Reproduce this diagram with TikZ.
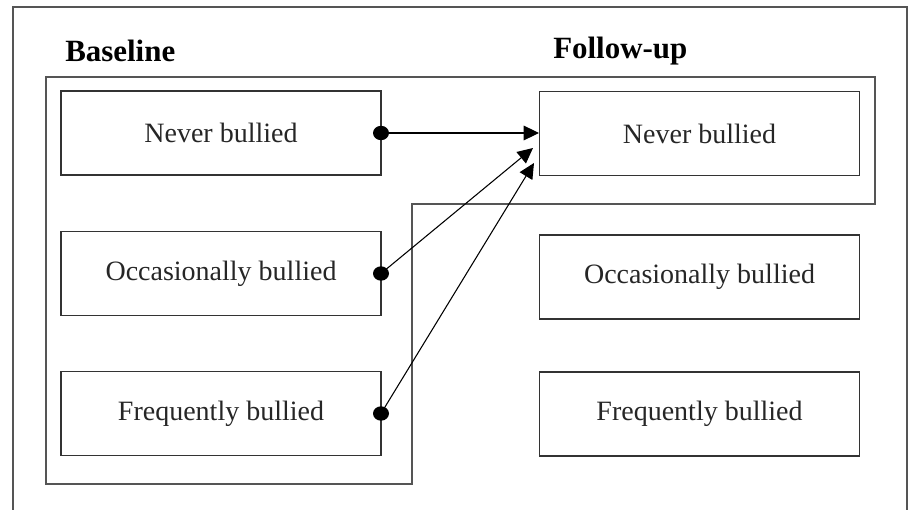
\documentclass[tikz,border=0pt]{standalone}
\usepackage{fontspec}
\setmainfont{Liberation Serif}
\usetikzlibrary{arrows.meta}
\definecolor{frame}{HTML}{555555}
\begin{document}
\begin{tikzpicture}[x=0.75pt,y=-0.75pt,
  framel/.style={draw=frame,line width=0.8pt},
  boxnode/.style={draw=black!80,line width=0.8pt,minimum width=240pt,minimum height=63pt,inner sep=0pt,outer sep=0pt,font=\fontsize{21}{25}\selectfont,text=black!85},
  headlabel/.style={inner sep=0pt,anchor=base west,font=\fontsize{23.2}{27}\selectfont\bfseries},
  conn/.style={draw=black,line width=0.8pt,-{Triangle[length=11.5pt,width=11pt]}},
  dotmark/.style={fill=black}]
\useasboundingbox (0,0) rectangle (911,510);
\draw[framel] (13,510) -- (13,7) -- (907,7) -- (907,510);
\draw[framel] (46,77) -- (875,77) -- (875,204) -- (412,204) -- (412,484) -- (46,484) -- cycle;
\node[headlabel] (hb) at (65,62) {Baseline};
\node[headlabel] (hf) at (553,59) {Follow-up};
\node[boxnode] (l1) at (221,133) {Never bullied};
\node[boxnode] (l2) at (221,273.5) {Occasionally bullied};
\node[boxnode] (l3) at (221,413.5) {Frequently bullied};
\node[boxnode] (r1) at (699.5,133.5) {Never bullied};
\node[boxnode] (r2) at (699.5,277) {Occasionally bullied};
\node[boxnode] (r3) at (699.5,414) {Frequently bullied};
\coordinate (t1) at (539,133);
\coordinate (t2) at (533,148);
\coordinate (t3) at (534,163);
\draw[conn] (l1.east) -- (t1);
\draw[conn] (l2.east) -- (t2);
\draw[conn] (l3.east) -- (t3);
\fill[dotmark] (l1.east) ellipse [x radius=6pt,y radius=5.4pt];
\fill[dotmark] (l2.east) ellipse [x radius=6pt,y radius=5.4pt];
\fill[dotmark] (l3.east) ellipse [x radius=6pt,y radius=5.4pt];
\end{tikzpicture}
\end{document}
